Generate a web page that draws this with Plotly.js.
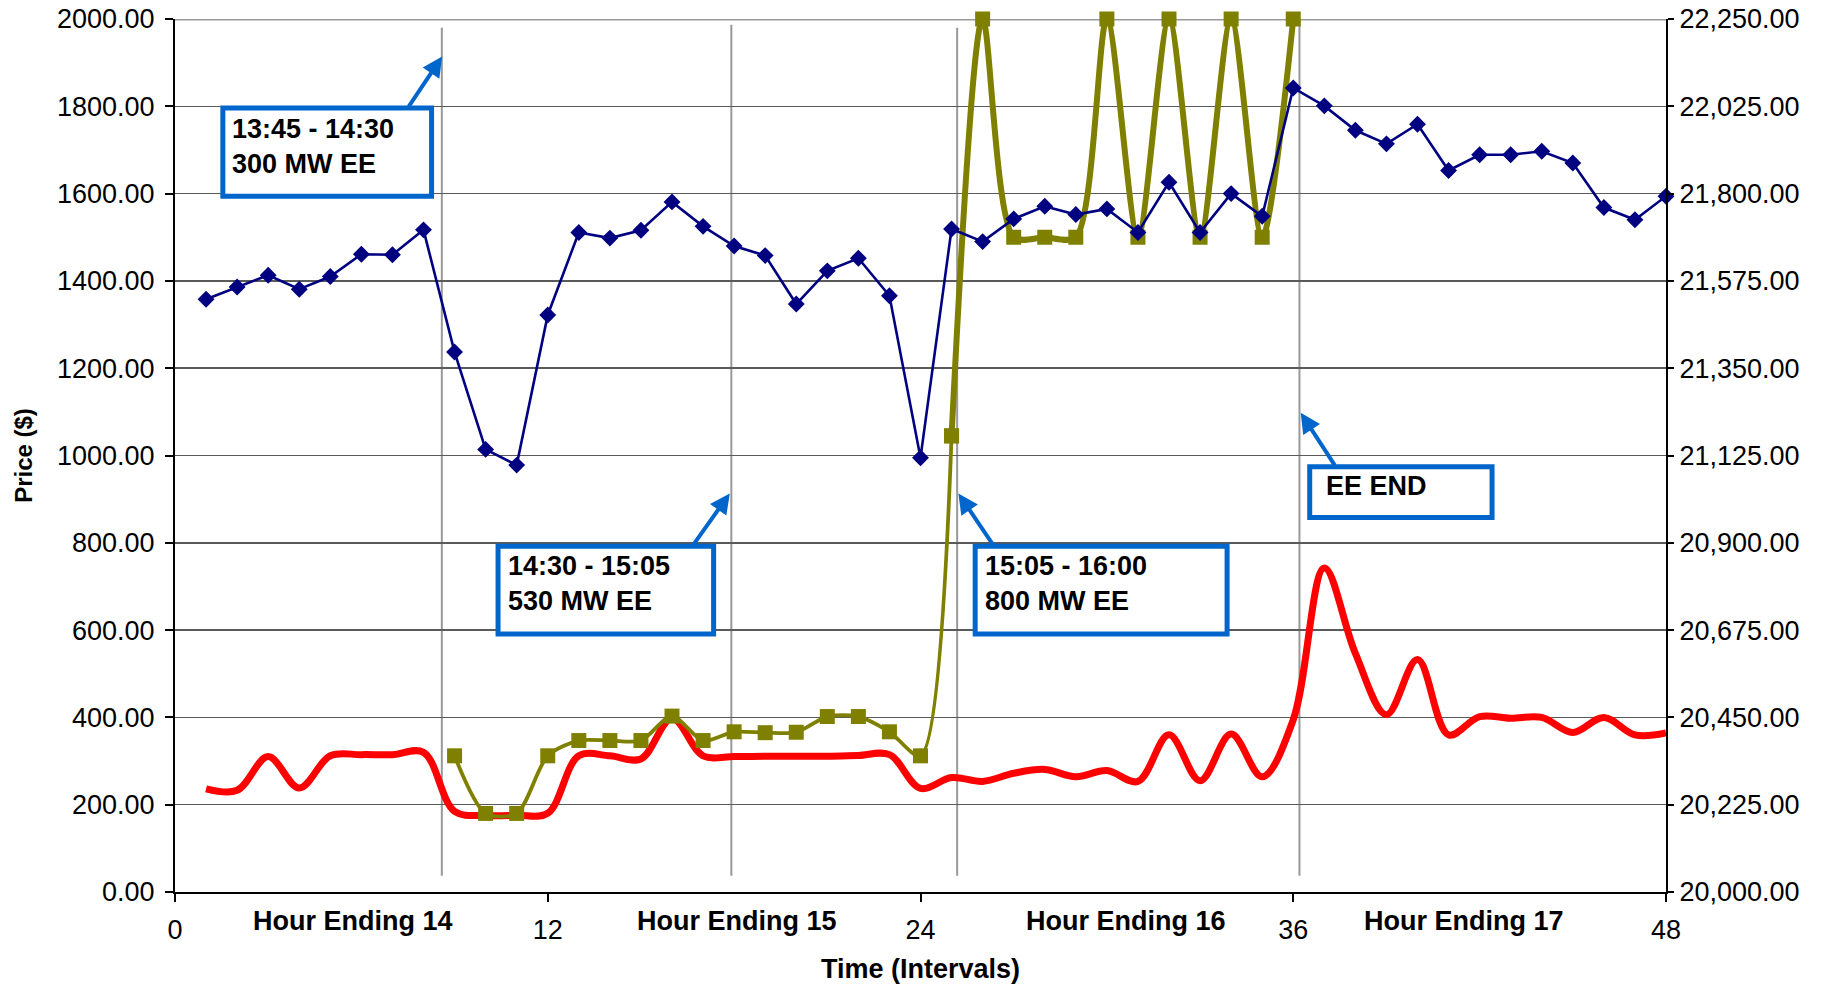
<!DOCTYPE html>
<html>
<head>
<meta charset="utf-8">
<script src="https://cdn.plot.ly/plotly-3.0.1.min.js"></script>
<style>
html, body { margin: 0; padding: 0; background: #ffffff; }
#chart { width: 1832px; height: 984px; }
</style>
</head>
<body>
<div id="chart"></div>
<script>
// ---------- data ----------
const intervals = [1,2,3,4,5,6,7,8,9,10,11,12,13,14,15,16,17,18,19,20,21,22,23,24,
                   25,26,27,28,29,30,31,32,33,34,35,36,37,38,39,40,41,42,43,44,45,46,47,48];

// Price ($), left axis (navy diamonds)
const priceBlue = [1358,1386,1413,1381,1410,1461,1460,1517,1237,1014,978,1322,
                   1511,1498,1516,1581,1525,1480,1458,1347,1423,1452,1366,995,
                   1519,1490,1542,1571,1552,1565,1511,1626,1511,1600,1548,1842,
                   1801,1745,1714,1759,1653,1689,1689,1697,1670,1568,1540,1594];

// Price ($), left axis (olive squares), intervals 9..36
const oliveIntervals = [9,10,11,12,13,14,15,16,17,18,19,20,21,22,23,24,25,
                        26,27,28,29,30,31,32,33,34,35,36];
const olivePrice = [312,180,180,312,347,347,347,403,347,367,365,366,402,402,367,312,1045,
                    2000,1500,1500,1500,2000,1500,2000,1500,2000,1500,2000];

// Load (MW), right axis (red smoothed line)
const loadRed = [20266,20262,20349,20268,20351,20354,20354,20360,20208,20197,20198,20203,
                 20351,20351,20343,20448,20351,20349,20350,20350,20350,20352,20354,20267,
                 20295,20285,20306,20316,20297,20313,20285,20405,20287,20407,20297,20444,
                 20835,20615,20457,20599,20405,20452,20448,20450,20411,20450,20405,20410];

const xTicks = [0,12,24,36,48];
const hourLabels = ['Hour Ending 14','Hour Ending 15','Hour Ending 16','Hour Ending 17'];
const eeLines = [8.59, 17.91, 25.18, 36.2];
const eeTexts = ['13:45 - 14:30<br>300 MW EE', '14:30 - 15:05<br>530 MW EE',
                 '15:05 - 16:00<br>800 MW EE', 'EE END'];

// ---------- styling / layout ----------
const FONT = 'Liberation Sans, Arial, sans-serif';
const BLUEBOX = '#0066CC';

// olive split: thin part (9..25) and thick part (25..36)
const splitAt = oliveIntervals.indexOf(25);

const traces = [
  {
    x: intervals, y: loadRed, yaxis: 'y', type: 'scatter', mode: 'lines',
    line: { color: '#FF0000', width: 7, shape: 'spline', smoothing: 1 },
    hoverinfo: 'skip', showlegend: false
  },
  {
    x: oliveIntervals.slice(0, splitAt + 1), y: olivePrice.slice(0, splitAt + 1), yaxis: 'y2',
    type: 'scatter', mode: 'lines+markers',
    line: { color: '#808000', width: 3.8, shape: 'spline', smoothing: 0.8 },
    marker: { symbol: 'square', size: 15, color: '#808000' },
    cliponaxis: false, showlegend: false
  },
  {
    x: oliveIntervals.slice(splitAt), y: olivePrice.slice(splitAt), yaxis: 'y2',
    type: 'scatter', mode: 'lines+markers',
    line: { color: '#808000', width: 6, shape: 'spline', smoothing: 0.8 },
    marker: { symbol: 'square', size: 15, color: '#808000' },
    cliponaxis: false, showlegend: false
  },
  {
    x: intervals, y: priceBlue, yaxis: 'y2', type: 'scatter', mode: 'lines+markers',
    line: { color: '#000080', width: 2.6 },
    marker: { symbol: 'diamond', size: 13, color: '#000080' },
    cliponaxis: false, showlegend: false
  }
];

const boxes = [
  [1.54, 8.26, 1594, 1796],
  [10.4, 17.34, 591, 792],
  [25.76, 33.87, 591, 792],
  [36.53, 42.4, 858, 974]
];
const boxTextPos = [[1.78, 1787], [10.66, 785], [26.0, 785], [37.0, 970]];
const arrows = [
  [8.60, 1914, 7.49, 1796],
  [17.86, 913, 16.65, 792],
  [25.22, 913, 26.37, 792],
  [36.24, 1098, 37.37, 974]
];
const eeTop = [1980, 1987, 1980, 2000];
const hourPos = [5.74, 18.1, 30.6, 41.5];

const shapes = [];
eeLines.forEach((xv, i) => {
  shapes.push({ type: 'line', xref: 'x', yref: 'y2', x0: xv, x1: xv, y0: 37, y1: eeTop[i],
                line: { color: '#999999', width: 2 }, layer: 'below' });
});
shapes.push({ type: 'line', xref: 'x', yref: 'y2', x0: 0, x1: 48, y0: 2000, y1: 2000,
              line: { color: '#999999', width: 3 }, layer: 'below' });
boxes.forEach(b => {
  shapes.push({ type: 'rect', xref: 'x', yref: 'y2', x0: b[0], x1: b[1], y0: b[2], y1: b[3],
                line: { color: BLUEBOX, width: 5 }, fillcolor: '#ffffff', layer: 'above' });
});

const annotations = [];
eeTexts.forEach((t, i) => {
  annotations.push({ xref: 'x', yref: 'y2', x: boxTextPos[i][0], y: boxTextPos[i][1],
    xanchor: 'left', yanchor: 'top', align: 'left', showarrow: false, text: t,
    font: { family: FONT, size: 27, color: '#000000', weight: 'bold' } });
});
arrows.forEach(a => {
  annotations.push({ xref: 'x', yref: 'y2', axref: 'x', ayref: 'y2',
    x: a[0], y: a[1], ax: a[2], ay: a[3], text: '', showarrow: true,
    arrowhead: 2, arrowsize: 1, arrowwidth: 4, arrowcolor: BLUEBOX, standoff: 0, startstandoff: 0 });
});
hourLabels.forEach((t, i) => {
  annotations.push({ xref: 'x', yref: 'paper', x: hourPos[i], y: -0.0335,
    xanchor: 'center', yanchor: 'middle', showarrow: false, text: t,
    font: { family: FONT, size: 27, color: '#000000', weight: 'bold' } });
});

const layout = {
  width: 1832, height: 984,
  margin: { l: 175, r: 166, t: 19, b: 92, pad: 0 },
  paper_bgcolor: '#ffffff', plot_bgcolor: '#ffffff',
  font: { family: FONT, size: 27, color: '#000000' },
  showlegend: false,
  xaxis: {
    range: [0, 48], tickmode: 'array', tickvals: xTicks, ticktext: xTicks.map(String),
    showgrid: false, zeroline: false,
    showline: true, linecolor: '#000000', linewidth: 2,
    ticks: 'outside', ticklen: 8, tickwidth: 2, tickcolor: '#000000',
    ticklabelstandoff: 5,
    tickfont: { family: FONT, size: 27, color: '#000000' },
    title: { text: 'Time (Intervals)', standoff: 20,
             font: { family: FONT, size: 27, color: '#000000', weight: 'bold' } }
  },
  yaxis: {
    side: 'right', range: [20000, 22250], tick0: 20000, dtick: 225, tickformat: ',.2f',
    showgrid: true, gridcolor: '#5a5a5a', gridwidth: 1.5, zeroline: false,
    showline: true, linecolor: '#000000', linewidth: 2,
    ticks: 'outside', ticklen: 6, tickwidth: 2, tickcolor: '#000000',
    ticklabelstandoff: 0,
    tickfont: { family: FONT, size: 27, color: '#000000' }
  },
  yaxis2: {
    overlaying: 'y', side: 'left', range: [0, 2000], tick0: 0, dtick: 200, tickformat: '.2f',
    showgrid: false, zeroline: false,
    showline: true, linecolor: '#000000', linewidth: 2,
    ticks: 'outside', ticklen: 8, tickwidth: 2, tickcolor: '#000000',
    ticklabelstandoff: 5,
    tickfont: { family: FONT, size: 27, color: '#000000' },
    title: { text: 'Price ($)', standoff: 18,
             font: { family: FONT, size: 24, color: '#000000', weight: 'bold' } }
  },
  shapes: shapes,
  annotations: annotations
};

Plotly.newPlot('chart', traces, layout, { staticPlot: true, displayModeBar: false });
</script>
</body>
</html>
